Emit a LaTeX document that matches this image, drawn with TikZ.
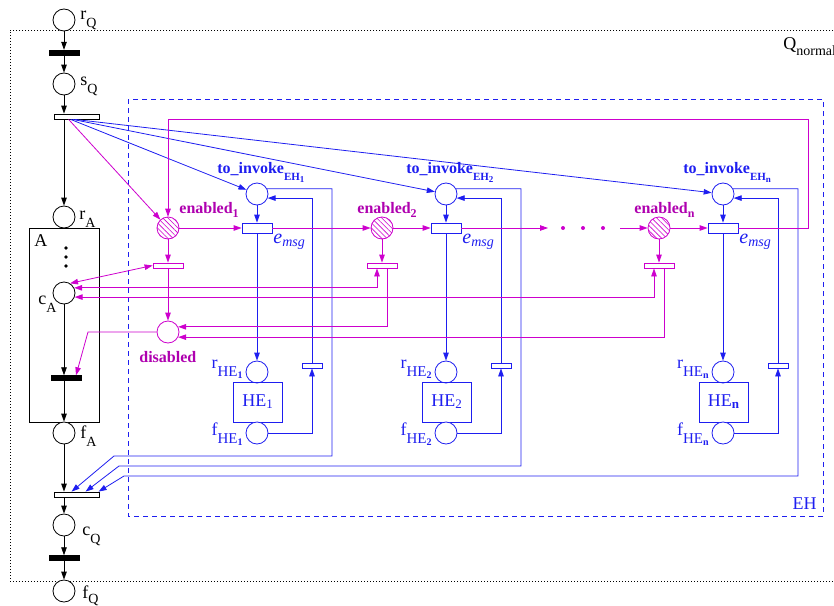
\documentclass[tikz,border=0pt]{standalone}
\usepackage{fontspec}
\setmainfont{Liberation Serif}
\usetikzlibrary{arrows.meta,patterns.meta,calc}
\definecolor{eb}{RGB}{30,30,240}
\definecolor{mg}{RGB}{205,0,205}
\definecolor{mgt}{RGB}{175,0,175}
\newcommand\lw[3]{\raisebox{-#1pt}{\fontsize{#2}{#2}\selectfont #3}}
\newcommand\fs[1]{\fontsize{#1}{#1}\selectfont}
\begin{document}
\begin{tikzpicture}[x=1pt,y=-1pt,line width=0.8pt,
  place/.style={circle,draw,fill=white,minimum size=22pt,inner sep=0pt},
  bar/.style={rectangle,fill=black,draw=black,line width=0.4pt,minimum width=30pt,minimum height=5pt,inner sep=0pt},
  otr/.style={rectangle,draw,fill=white,minimum width=45pt,minimum height=5pt,inner sep=0pt},
  etr/.style={rectangle,draw=eb,fill=white,minimum width=30pt,minimum height=10pt,inner sep=0pt},
  dtr/.style={rectangle,draw=mg,fill=white,minimum width=30pt,minimum height=5pt,inner sep=0pt},
  sttr/.style={rectangle,draw=eb,fill=white,minimum width=20pt,minimum height=5pt,inner sep=0pt},
  enpl/.style={circle,draw=mg,minimum size=22pt,inner sep=0pt,preaction={fill=white},pattern={Lines[angle=-45,distance=3.6pt,line width=0.6pt]},pattern color=mg},
  arr/.style={-{Triangle[length=8pt,width=5.5pt]}},
  darr/.style={{Triangle[length=8pt,width=5.5pt]}-{Triangle[length=8pt,width=5.5pt]}},
  lab/.style={inner sep=0pt,font=\fs{18}},
  blab/.style={inner sep=0pt,font=\fs{16}\bfseries},
]
\useasboundingbox (0,0) rectangle (834,605);
% outer boxes
\draw[line width=0.6pt,dash pattern=on 0.7pt off 2.3pt] (860,30) -- (10,30) -- (10,581) -- (860,581);
\node[lab,anchor=base west] (LQn) at (783,49) {Q\lw{6}{14}{normal}};
\draw[eb,dash pattern=on 5pt off 4pt] (128,99) rectangle (823,516);
\node[lab,text=eb,anchor=base east] (LEH) at (817,509) {EH};
% box A
\node[draw,minimum width=70pt,minimum height=194pt,inner sep=0pt,line width=0.7pt] (boxA) at (64,325) {};
\node[lab,anchor=base west] (LA) at (34,246) {A};
\foreach \yy in {248,257,266} \fill (66,\yy) circle (1.8pt);
% main column
\node[place] (rQ) at (64,20) {};
\node[bar] (b1) at (64,52.5) {};
\node[place] (sQ) at (64,84) {};
\node[otr] (ts) at (76.5,116.5) {};
\node[place] (rA) at (64,217) {};
\node[place] (cA) at (64,293) {};
\node[bar] (b2) at (66,378) {};
\node[place] (fA) at (64,433) {};
\node[otr] (tc) at (76.5,494.5) {};
\node[place] (cQ) at (64,525) {};
\node[bar] (b3) at (64,558) {};
\node[place] (fQ) at (64,591) {};
\node[lab,anchor=base west] (LrQ) at (80,19) {r\lw{8}{14}{Q}};
\node[lab,anchor=base west] (LsQ) at (80,85) {s\lw{8}{14}{Q}};
\node[lab,anchor=base west] (LrA) at (79,219) {r\lw{8}{14}{A}};
\node[lab,anchor=base west] (LcA) at (38,304) {c\lw{8}{14}{A}};
\node[lab,anchor=base west] (LfA) at (80,438) {f\lw{8}{14}{A}};
\node[lab,anchor=base west] (LcQ) at (82,535) {c\lw{8}{14}{Q}};
\node[lab,anchor=base west] (LfQ) at (82,598) {f\lw{5}{14}{Q}};
\draw[arr] (rQ) -- (b1);
\draw[arr] (b1) -- (sQ);
\draw[arr] (sQ) -- (sQ |- ts.north);
\draw[arr] (ts.south -| rA) -- (rA);
\draw[arr] (cA) -- (cA.south |- b2.north);
\draw[arr] (b2.south -| fA) -- (fA);
\draw[arr] (fA) -- (fA |- tc.north);
\draw[arr] (tc.south -| cQ) -- (cQ);
\draw[arr] (cQ) -- (b3);
\draw[arr] (b3) -- (fQ);
% disabled
\node[place,draw=mg] (dis) at (168,332) {};
\node[blab,text=mgt,anchor=base west] (Ldis) at (139,362) {disabled};
% event handler groups
\foreach \i/\X/\E/\s/\el/\Y/\cx/\tx/\st in {1/257/168/1/179/456/114/18/17, 2/446/382/2/357/466/119/32/19, n/723/659/\textbf{n}/634/476/124/45/21} {
  \node[place,draw=eb] (TI\i) at (\X,194) {};
  \node[etr] (em\i) at (\X,228) {};
  \node[place,draw=eb] (rH\i) at (\X,372) {};
  \node[draw=eb,text=eb,minimum width=49pt,minimum height=40pt,inner sep=0pt,font=\fs{18}] (HE\i) at (\X+0.5,402) {HE\lw{2}{13}{\s}};
  \node[place,draw=eb] (fH\i) at (\X,433) {};
  \node[sttr] (sm\i) at (\X+55,365.5) {};
  \node[enpl] (en\i) at (\E,228) {};
  \node[dtr] (d\i) at (\E,265.5) {};
  \node[blab,text=eb,anchor=base west] (LTI\i) at (\X-40,173) {to\_invoke\lw{7}{11}{EH\lw{2}{9}{\i}}};
  \node[blab,text=mgt,anchor=base west] (Len\i) at (\el,213) {enabled\lw{4}{12}{\i}};
  \node[inner sep=0pt,text=eb,anchor=base west,font=\fs{20}\itshape] (Lem\i) at (\X+16,243) {e\lw{3}{14}{msg}};
  \node[lab,text=eb,anchor=base east] (LrH\i) at (\X-14,368) {r\lw{8}{15}{HE\lw{2}{10}{\textbf{\i}}}};
  \node[lab,text=eb,anchor=base east] (LfH\i) at (\X-14,435) {f\lw{8}{15}{HE\lw{2}{10}{\textbf{\i}}}};
  \draw[eb,arr] (TI\i) -- (em\i);
  \draw[eb,arr] (em\i) -- (rH\i);
  \draw[eb,arr] (fH\i) -| (sm\i.south);
  \draw[eb,arr] (sm\i.north) |- (TI\i.-21);
  \draw[eb,arr] (TI\i.27) -| (\X+75,\Y) -- (\cx,\Y) -- ($(tc.north west)+(\tx,0)$);
  \draw[eb,arr] ($(ts.south west)+(\st,0)$) -- (TI\i);
  \draw[mg,arr] (en\i) -- (em\i);
  \draw[mg,arr] (en\i) -- (d\i);
}
% magenta chain
\draw[mg,arr] (em1) -- (en2);
\coordinate (dA) at (548,228);
\coordinate (dB) at (620,228);
\draw[mg,arr] (em2) -- (dA);
\draw[mg,arr] (dB) -- (enn);
\foreach \xx in {563,583,603} \fill[mg] (\xx,228) circle (2pt);
\draw[mg,arr] (emn) -- (808,228) -- (808,119) -| (en1);
\draw[mg,arr] ($(ts.south west)+(15,0)$) -- (en1);
\draw[mg,darr] (cA.58) -- (d1.west);
\draw[mg,darr] (cA.27) -| ($(d2.south)+(-5,0)$);
\draw[mg,darr] (cA.-21) -| ($(dn.south)+(-5,0)$);
\draw[mg,arr] ($(d2.south)+(5,0)$) |- (dis.27);
\draw[mg,arr] ($(dn.south)+(5,0)$) |- (dis.-27);
\draw[mg,arr] (d1) -- (dis);
\coordinate (bendD) at (88,332);
\draw[mg,arr] (dis.west) -- (bendD) -- ($(b2.north)+(10,0)$);
\end{tikzpicture}
\end{document}
